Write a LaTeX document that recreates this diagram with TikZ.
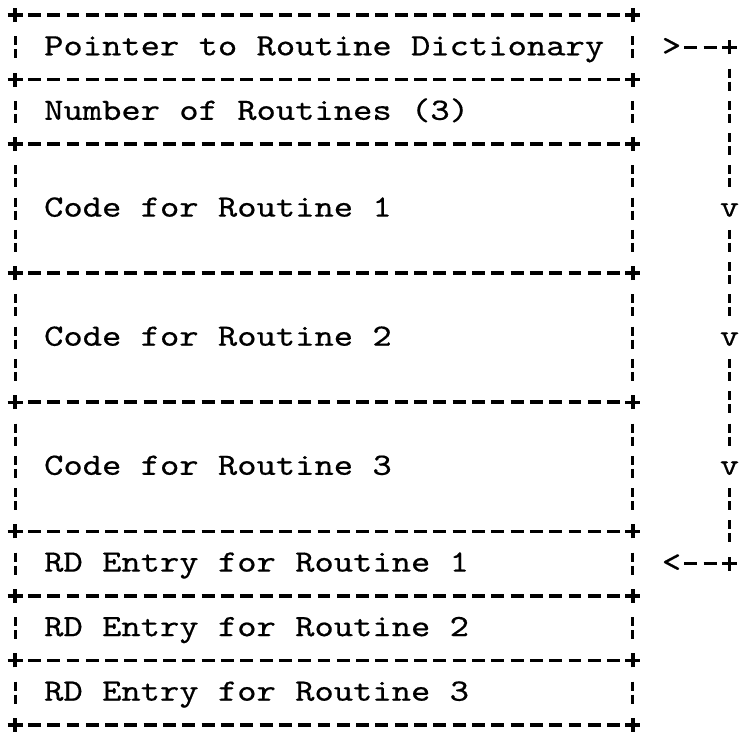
\documentclass[tikz,border=0pt]{standalone}
\usepackage{fontspec}
\newfontfamily\typer{lmmono10-regular.otf}[FakeStretch=1.1865,FakeBold=0.5]
\begin{document}
\begin{tikzpicture}[
  hdash/.style={line width=3.5pt, dash pattern=on 12.9pt off 6.41pt},
  vdash/.style={line width=3pt, dash pattern=on 9pt off 4pt on 9pt off 10.27pt},
  typefont/.style={font={\fontsize{31pt}{38pt}\typer}},
  txt/.style={typefont, anchor=base west, inner sep=0pt, yshift=-8pt},
  glyph/.style={typefont, anchor=base, inner sep=0pt, yshift=-8pt},
  plus/.pic={\draw[line width=3.4pt] (-7.5pt,0) -- (7.5pt,0) (0,-7pt) -- (0,7pt);}
]
\useasboundingbox (0pt,0pt) rectangle (740pt,-732pt);
% one unit = one character cell of the typed layout
\begin{scope}[shift={(15pt,-15pt)}, x=19.31pt, y=-32.27pt]
  % contents of the memory image
  \node[txt] (ptr)   at (1.5,1)  {Pointer to Routine Dictionary};
  \node[txt] (num)   at (1.5,3)  {Number of Routines (3)};
  \node[txt] (code1) at (1.5,6)  {Code for Routine 1};
  \node[txt] (code2) at (1.5,10) {Code for Routine 2};
  \node[txt] (code3) at (1.5,14) {Code for Routine 3};
  \node[txt] (rd1)   at (1.5,17) {RD Entry for Routine 1};
  \node[txt] (rd2)   at (1.5,19) {RD Entry for Routine 2};
  \node[txt] (rd3)   at (1.5,21) {RD Entry for Routine 3};

  % horizontal separators with corner crosses
  \foreach \r in {0,2,4,8,12,16,18,20,22} {
    \draw[hdash] (0.667,\r) -- (31.333,\r);
    \pic at (0,\r) {plus};
    \pic at (32,\r) {plus};
  }
  % side walls between separators
  \foreach \a/\b in {0/2,2/4,4/8,8/12,12/16,16/18,18/20,20/22} {
    \foreach \c in {0,32}
      \draw[vdash] ([yshift=-21.27pt]\c,\a) -- ([yshift=21.27pt]\c,\b);
  }

  % pointer from the first word to the routine dictionary
  \node[glyph] (from) at (34,1)  {>};
  \node[glyph] (to)   at (34,17) {<};
  \coordinate (k1) at (37,1);
  \coordinate (k2) at (37,17);
  \draw[hdash] ([shift={(12.87pt,8pt)}]from.base) -- ([xshift=-12.87pt]k1);
  \draw[vdash] ([yshift=-21.27pt]k1) -- ([yshift=21.27pt]k2);
  \draw[hdash] ([shift={(12.87pt,8pt)}]to.base) -- ([xshift=-12.87pt]k2);
  \pic at (k1) {plus};
  \pic at (k2) {plus};
  \node[glyph, fill=white, minimum height=26pt] (v1) at (37,6)  {v};
  \node[glyph, fill=white, minimum height=26pt] (v2) at (37,10) {v};
  \node[glyph, fill=white, minimum height=26pt] (v3) at (37,14) {v};
\end{scope}
\end{tikzpicture}
\end{document}
